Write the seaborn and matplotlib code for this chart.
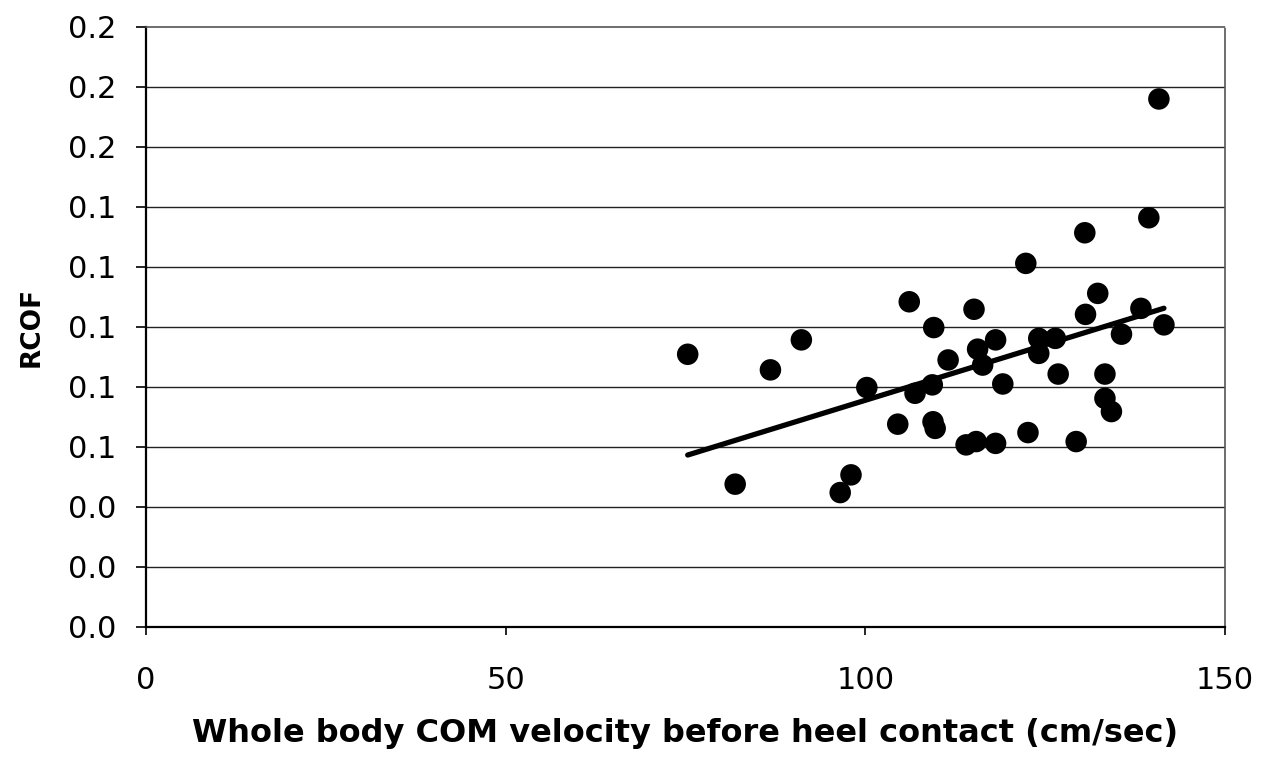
import matplotlib
matplotlib.use("Agg")
import matplotlib.pyplot as plt
import numpy as np
import pandas as pd
import seaborn as sns

# whole body COM velocity (cm/sec) and RCOF
velocity = [75.3, 81.9, 86.8, 91.1, 96.5, 98.0, 100.2, 104.5, 106.1, 106.9,
            109.3, 109.5, 109.4, 109.7, 111.5, 114.0, 115.1, 115.4, 115.6, 116.3,
            118.1, 118.1, 119.1, 122.3, 122.6, 124.1, 124.1, 126.4, 126.8, 129.3,
            130.5, 130.6, 132.3, 133.3, 133.3, 134.2, 135.6, 138.3, 139.4, 140.8,
            141.5]
rcof = [0.0909, 0.0476, 0.0857, 0.0957, 0.0448, 0.0507, 0.0798, 0.0676, 0.1084, 0.0779,
        0.0807, 0.0998, 0.0684, 0.0662, 0.0890, 0.0607, 0.1059, 0.0618, 0.0926, 0.0873,
        0.0957, 0.0612, 0.0810, 0.1212, 0.0648, 0.0962, 0.0912, 0.0962, 0.0843, 0.0618,
        0.1314, 0.1042, 0.1112, 0.0843, 0.0762, 0.0718, 0.0976, 0.1062, 0.1364, 0.1760,
        0.1007]

x_ticks = [0, 50, 100, 150]
y_ticks = [0.00, 0.02, 0.04, 0.06, 0.08, 0.10, 0.12, 0.14, 0.16, 0.18, 0.20]
y_tick_labels = ["0.0", "0.0", "0.0", "0.1", "0.1", "0.1", "0.1", "0.1", "0.2", "0.2", "0.2"]

df = pd.DataFrame({"velocity": velocity, "rcof": rcof})

sns.set_style("white")
plt.rcParams["font.family"] = ["DejaVu Sans"]
plt.rcParams["text.color"] = "black"
plt.rcParams["axes.labelcolor"] = "black"
plt.rcParams["xtick.color"] = "black"
plt.rcParams["ytick.color"] = "black"

fig = plt.figure(figsize=(12.74, 7.66), dpi=100)
ax = fig.add_axes([0.1146, 0.1815, 0.847, 0.7833])

# scatter + least squares line
sns.regplot(data=df, x="velocity", y="rcof", ax=ax, ci=None,
            scatter_kws={"s": 240, "color": "black", "edgecolor": "none", "alpha": 1},
            line_kws={"color": "black", "lw": 3.8})

ax.set_xlim(0, 150)
ax.set_ylim(0, 0.2)
ax.set_xticks(x_ticks)
ax.set_yticks(y_ticks)
ax.set_yticklabels(y_tick_labels)

# horizontal gridlines only
for yv in y_ticks[1:-1]:
    ax.axhline(yv, color="#222222", lw=1.0, zorder=0)

for side in ["left", "bottom"]:
    ax.spines[side].set_color("black")
    ax.spines[side].set_linewidth(1.6)
for side in ["top", "right"]:
    ax.spines[side].set_color("#555555")
    ax.spines[side].set_linewidth(1.2)
    ax.spines[side].set_linestyle((0, (1, 1)))

ax.tick_params(axis="y", direction="out", length=7, width=1.2, pad=14,
               labelsize=22, left=True, colors="black")
ax.tick_params(axis="x", direction="out", length=6, width=1.2, pad=22,
               labelsize=22, bottom=True, colors="black")

ax.set_xlabel("Whole body COM velocity before heel contact (cm/sec)",
              fontsize=23, fontweight="bold", labelpad=17, color="black")
ax.set_ylabel("RCOF", fontsize=19, fontweight="bold", labelpad=17, color="black")

fig.savefig("out.png", dpi=100)
